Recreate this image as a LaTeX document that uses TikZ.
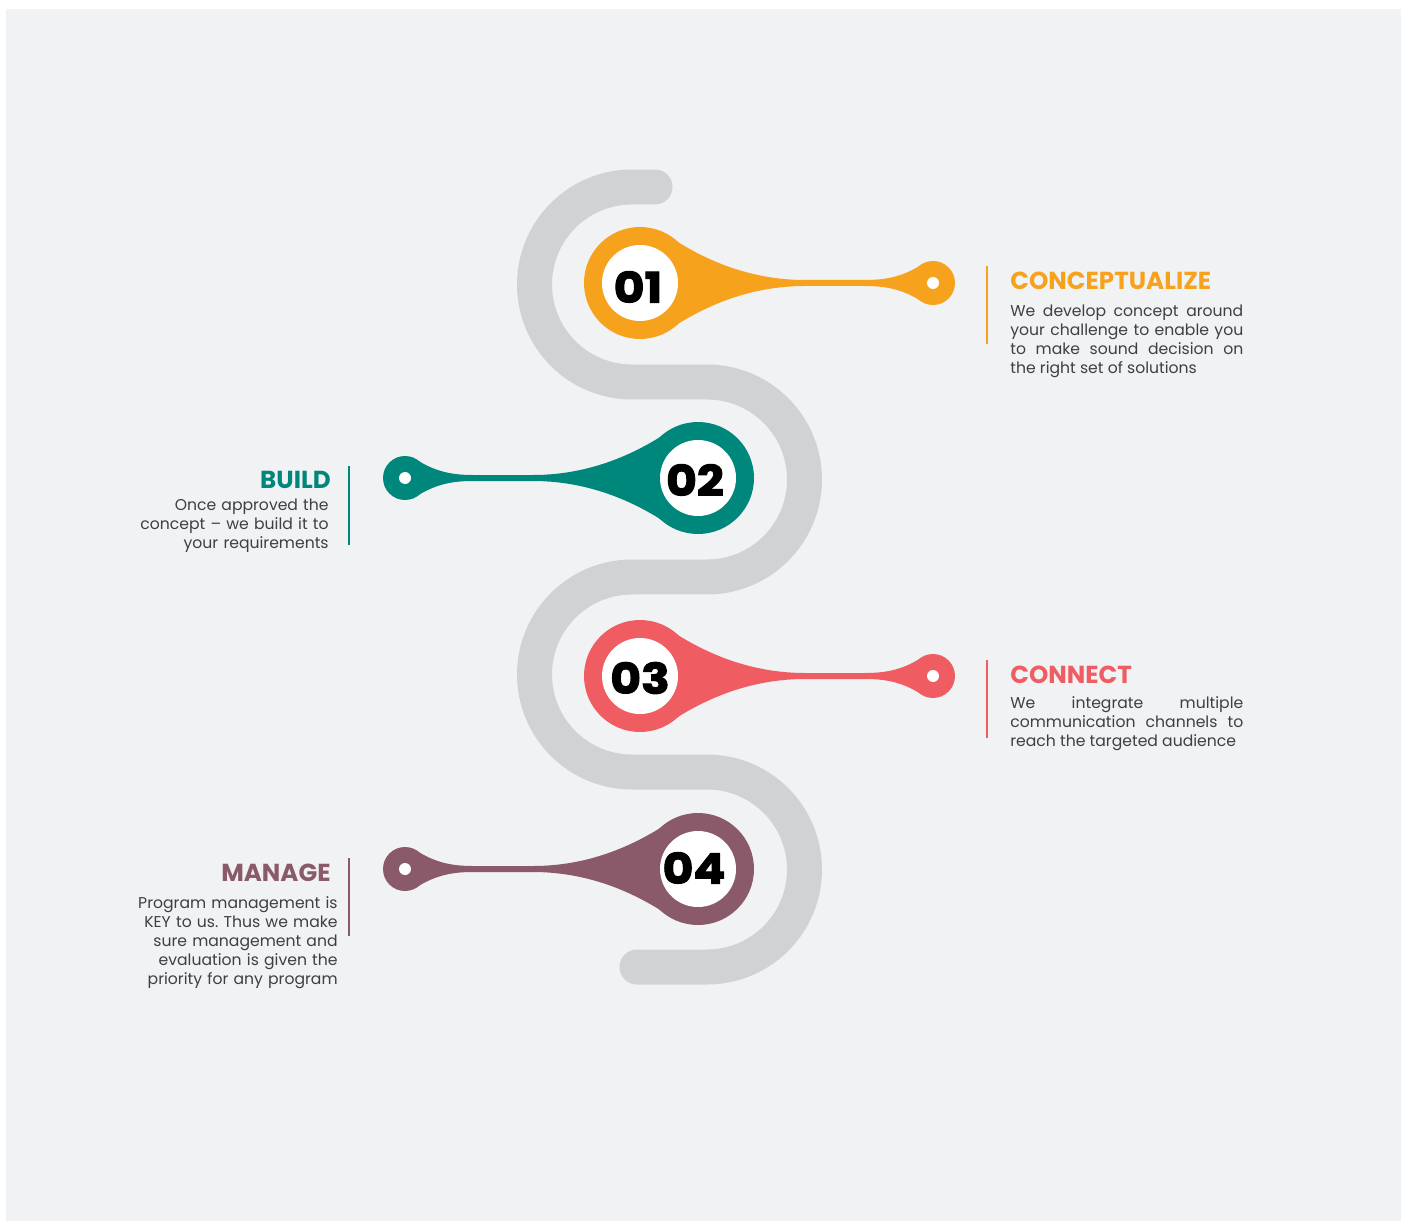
\documentclass[tikz,border=0pt]{standalone}
\usepackage{fontspec}
\setmainfont{Poppins}
\newfontfamily\numfont{Poppins}[BoldFeatures={FakeBold=2.5, FakeStretch=1.12}]
\frenchspacing
\definecolor{bgcol}{HTML}{F1F2F4}
\definecolor{roadcol}{HTML}{D1D2D4}
\definecolor{orangecol}{HTML}{F7A21D}
\definecolor{tealcol}{HTML}{00877B}
\definecolor{coralcol}{HTML}{EF5D63}
\definecolor{mauvecol}{HTML}{8A5A6A}
\definecolor{bodycol}{HTML}{3F3F3F}

\tikzset{
  title/.style={font=\fontsize{14}{14}\selectfont\bfseries, inner sep=0pt},
  body/.style={font=\fontsize{8.9}{10.8}\selectfont, text=bodycol, inner sep=0pt},
  num/.style={font=\numfont\fontsize{24}{24}\selectfont\bfseries, inner sep=0pt},
  road/.style={roadcol, line width=0.7cm, line cap=round},
  bar/.style={line width=1.4pt},
}

% teardrop pin: centre x, centre y, direction (1 right, -1 left), colour
\newcommand{\pin}[4]{%
  \begin{scope}[shift={(#1,#2)}, xscale=#3]
    \fill[#4] (0,0) circle (56);
    \fill[#4] (293,0) circle (22);
    \fill[#4] (30,-46) .. controls (53,-31) and (100,-3) .. (165,-3) -- (225,-3)
      .. controls (245,-3) and (262,-6) .. (281,-18) -- (281,18)
      .. controls (262,6) and (245,3) .. (225,3) -- (165,3)
      .. controls (100,3) and (53,31) .. (30,46) -- cycle;
    \fill[white] (0,0) circle (38);
    \fill[white] (293,0) circle (6);
  \end{scope}}

\begin{document}
\begin{tikzpicture}[x=0.02cm, y=-0.02cm]
\useasboundingbox (0,0) rectangle (1407,1223);
\fill[white] (0,0) rectangle (1407,1223);
\fill[bgcol] (6,9) rectangle (1401,1221);

% the winding road
\draw[road] (655,187) -- (632,187)
  arc[start angle=-90, end angle=-270, radius=97.5] -- (707,382)
  arc[start angle=-90, end angle=90, radius=97.5] -- (632,577)
  arc[start angle=-90, end angle=-270, radius=97.5] -- (707,772)
  arc[start angle=-90, end angle=90, radius=97.5] -- (637,967);

% pins
\pin{640}{283}{1}{orangecol}
\pin{698}{478}{-1}{tealcol}
\pin{640}{676}{1}{coralcol}
\pin{698}{869}{-1}{mauvecol}

\node[num] (n1) at (638,287) {01};
\node[num] (n2) at (695,480) {02};
\node[num] (n3) at (640,678) {03};
\node[num] (n4) at (694,868) {04};

% step 1
\draw[bar, orangecol] (987,266) -- (987,344);
\node[title, text=orangecol, anchor=base west] (t1) at (1010,290) {CONCEPTUALIZE};
\node[body, text width=4.66cm, align=justify, anchor=north west] (b1) at (1010,305)
  {We develop concept around\linebreak your challenge to enable you\linebreak to make sound decision on\linebreak the right set of solutions};

% step 2
\draw[bar, tealcol] (349,466) -- (349,545);
\node[title, text=tealcol, anchor=base east] (t2) at (331,488) {BUILD};
\node[body, text width=4cm, align=right, anchor=north east] (b2) at (329,499)
  {Once approved the\\ concept -- we build it to\\ your requirements};

% step 3
\draw[bar, coralcol] (987,660) -- (987,738);
\node[title, text=coralcol, anchor=base west] (t3) at (1010,683) {CONNECT};
\node[body, text width=4.66cm, align=justify, anchor=north west] (b3) at (1010,696)
  {We integrate multiple\linebreak communication channels to\linebreak reach the targeted audience};

% step 4
\draw[bar, mauvecol] (349,858) -- (349,936);
\node[title, text=mauvecol, anchor=base east] (t4) at (331,881) {MANAGE};
\node[body, text width=4.8cm, align=right, anchor=north east] (b4) at (338,896)
  {Program management is\\ KEY to us. Thus we make\\ sure management and\\ evaluation is given the\\ priority for any program};
\end{tikzpicture}
\end{document}
